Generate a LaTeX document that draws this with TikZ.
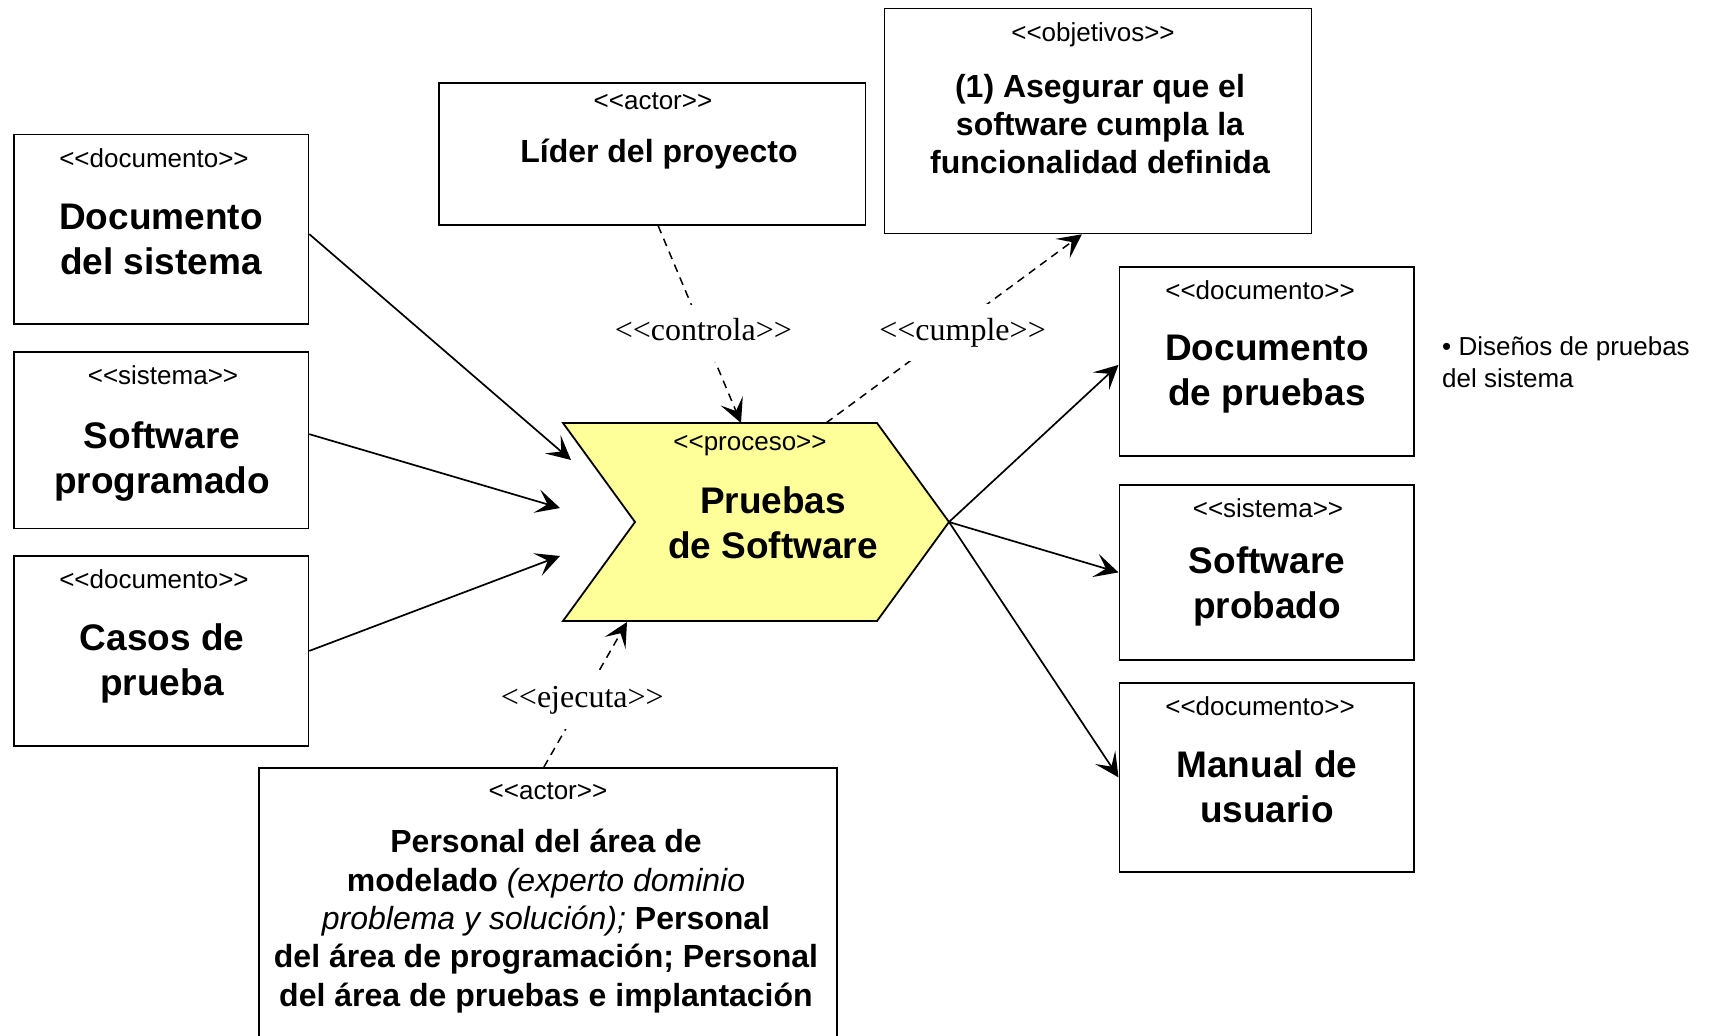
\documentclass[tikz,border=0pt]{standalone}
\usepackage{fontspec}
\setmainfont{Liberation Sans}
\newfontfamily\af{Liberation Sans}
\newfontfamily\tf{Liberation Serif}
\usetikzlibrary{arrows.meta}
\definecolor{procfill}{RGB}{255,255,153}
\begin{document}
\begin{tikzpicture}[x=1pt,y=-1pt,
  box/.style={draw, line width=1.8pt, rectangle, inner sep=0pt, anchor=north west},
  stereo/.style={font=\af\fontsize{26}{30}\selectfont, inner sep=0pt},
  ttl/.style={font=\af\fontsize{37}{45}\selectfont\bfseries, align=center, inner sep=0pt},
  ttlsm/.style={font=\af\fontsize{32}{38.3}\selectfont\bfseries, align=center, inner sep=0pt},
  tipshape/.style={-{Stealth[length=24pt,width=24pt,inset=11pt]}},
  flow/.style={line width=1.7pt, tipshape},
  dep/.style={line width=1.5pt, dash pattern=on 8pt off 6pt, tipshape},
  lbl/.style={font=\tf\fontsize{32}{36}\selectfont, fill=white, inner xsep=2pt, inner ysep=14pt, text height=22pt, text depth=7pt},
  note/.style={font=\af\fontsize{26}{32.5}\selectfont, align=left, inner sep=0pt}
]
\useasboundingbox (0,0) rectangle (1716,1036);
\clip (0,0) rectangle (1716,1036);
\fill[white] (0,0) rectangle (1716,1036);

% boxes
\node[box, minimum width=294.5pt, minimum height=189.5pt] (b1) at (13,133.5) {};
\node[box, minimum width=294.5pt, minimum height=176.5pt] (b2) at (13,351) {};
\node[box, minimum width=294.5pt, minimum height=190pt] (b3) at (13,555) {};
\node[box, minimum width=294.5pt, minimum height=189pt] (b4) at (1118.5,266) {};
\node[box, minimum width=294.5pt, minimum height=175pt] (b5) at (1118.5,484) {};
\node[box, minimum width=294.5pt, minimum height=189pt] (b6) at (1118.5,682) {};
\node[box, minimum width=426.5pt, minimum height=142pt] (b7) at (438,82) {};
\node[box, minimum width=427pt, minimum height=225pt] (b8) at (883.5,7.5) {};
\node[box, minimum width=578pt, minimum height=300pt] (b9) at (258,767) {};

% box texts
\node[stereo] (s1) at (154,158) {<<documento>>};
\node[ttl] (t1) at (161,239) {Documento\\del sistema};
\node[stereo] (s2) at (163,375) {<<sistema>>};
\node[ttl] (t2) at (162,462) {Software\\programado};
\node[stereo] (s3) at (154,579) {<<documento>>};
\node[ttl] (t3) at (162,663) {Casos de\\prueba};
\node[stereo] (s4) at (1260,290) {<<documento>>};
\node[ttl] (t4) at (1267,374) {Documento\\de pruebas};
\node[stereo] (s5) at (1268,508) {<<sistema>>};
\node[ttl] (t5) at (1267,586) {Software\\probado};
\node[stereo] (s6) at (1260,706) {<<documento>>};
\node[ttl] (t6) at (1267,787) {Manual de\\usuario};
\node[stereo] (s7) at (653,101) {<<actor>>};
\node[ttlsm] (t7) at (659,154) {Líder del proyecto};
\node[stereo] (s8) at (1093,35) {<<objetivos>>};
\node[ttlsm] (t8) at (1100,124) {(1) Asegurar que el\\software cumpla la\\funcionalidad definida};
\node[stereo] (s9) at (548,791) {<<actor>>};
\node[ttlsm] (t9) at (546,921) {Personal del área de\\modelado {\mdseries\itshape (experto dominio}\\{\mdseries\itshape problema y solución);} Personal\\del área de programación; Personal\\del área de pruebas e implantación};

% process chevron
\coordinate (pTL) at (563,423);
\coordinate (pTR) at (877,423);
\coordinate (pTip) at (949,522);
\coordinate (pBR) at (877,621);
\coordinate (pBL) at (563,621);
\coordinate (pNotch) at (635,522);
\draw[line width=1.8pt, fill=procfill] (pTL) -- (pTR) -- (pTip) -- (pBR) -- (pBL) -- (pNotch) -- cycle;
\node[stereo] (s10) at (750,446) {<<proceso>>};
\node[ttl] (t10) at (773,523) {Pruebas\\de Software};

% note
\node[note, anchor=north west] (n1) at (1442,336) {• Diseños de pruebas\\del sistema};

% flows
\coordinate (in1) at (571,460);
\coordinate (in2) at (560,508);
\coordinate (in3) at (560,556);
\draw[flow] ([yshift=-5pt]b1.east) -- (in1);
\draw[flow] ([yshift=6pt]b2.east) -- (in2);
\draw[flow] (b3.east) -- (in3);
\draw[flow] (pTip) -- ([yshift=-3.5pt]b4.west);
\draw[flow] (pTip) -- (b5.west);
\draw[flow] (pTip) -- (b6.west);

% dependencies
\coordinate (ctop1) at (741,423);
\coordinate (ctop2) at (826,423);
\coordinate (cbot) at (627,622);
\draw[dep] ([xshift=6pt]b7.south) -- node[lbl, pos=0.545] (l1) {<<controla>>} (ctop1);
\draw[dep] (ctop2) -- node[lbl, pos=0.479, xshift=14pt] (l2) {<<cumple>>} ([xshift=-16pt]b8.south);
\draw[dep] ([xshift=-4pt]b9.north) -- node[lbl, pos=0.462] (l3) {<<ejecuta>>} (cbot);
\end{tikzpicture}
\end{document}
